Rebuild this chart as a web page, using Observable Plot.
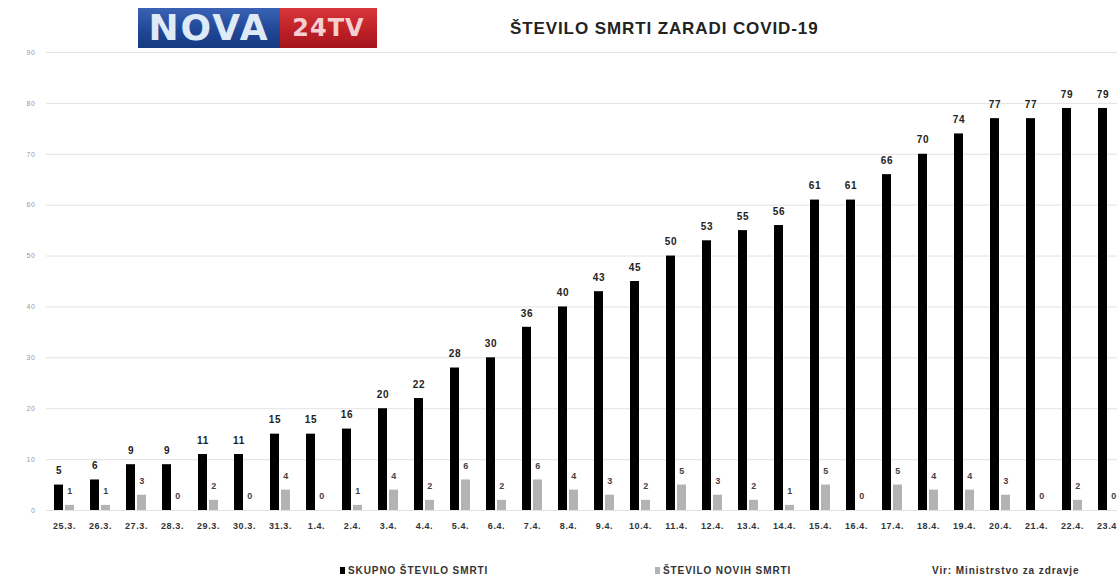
<!DOCTYPE html>
<html><head><meta charset="utf-8">
<script src="https://cdn.jsdelivr.net/npm/d3@7"></script>
<script src="https://cdn.jsdelivr.net/npm/@observablehq/plot@0.6"></script>
<style>
body{margin:0;background:#fff;font-family:"Liberation Sans",Arial,sans-serif;overflow:hidden;width:1117px;height:579px}
#header{position:relative;height:48px}
#logo{position:absolute;left:138px;top:8px;height:40px;display:flex}
#logo .b{width:142px;height:40px;background:linear-gradient(#3a62b4,#1f4594 60%,#173a80);color:#dfeaf7;font:bold 36px/40px "DejaVu Sans",sans-serif;text-align:center;letter-spacing:2px}
#logo .r{width:97px;height:40px;background:linear-gradient(#d8363a,#bb1f25 60%,#a5161c);color:#f6cfd0;font:bold 24px/40px "DejaVu Sans",sans-serif;text-align:center;letter-spacing:1px}
#title{position:absolute;left:510px;top:19px;font:bold 17px "Liberation Sans",Arial,sans-serif;color:#222;letter-spacing:0.9px}
#legend{position:relative;height:39px;font-size:10px;font-weight:bold;color:#333;letter-spacing:0.9px}
#legend div{position:absolute;top:25px;white-space:nowrap}
#legend span.sw{display:inline-block;width:5px;height:7px;margin-right:3px;vertical-align:0}
svg text{letter-spacing:0.6px}
</style></head>
<body>
<div id="header"><div id="logo"><div class="b">NOVA</div><div class="r">24TV</div></div>
<div id="title">ŠTEVILO SMRTI ZARADI COVID-19</div></div>
<div id="chart"></div>
<div id="legend">
<div style="left:340px"><span class="sw" style="background:#000"></span>SKUPNO ŠTEVILO SMRTI</div>
<div style="left:655px"><span class="sw" style="background:#b3b3b3"></span>ŠTEVILO NOVIH SMRTI</div>
<div style="left:932px">Vir: Ministrstvo za zdravje</div>
</div>
<script>
const dates = ["25.3.","26.3.","27.3.","28.3.","29.3.","30.3.","31.3.","1.4.","2.4.","3.4.","4.4.","5.4.","6.4.","7.4.","8.4.","9.4.","10.4.","11.4.","12.4.","13.4.","14.4.","15.4.","16.4.","17.4.","18.4.","19.4.","20.4.","21.4.","22.4.","23.4."];
const totalDeaths = [5,6,9,9,11,11,15,15,16,20,22,28,30,36,40,43,45,50,53,55,56,61,61,66,70,74,77,77,79,79];
const newDeaths = [1,1,3,0,2,0,4,0,1,4,2,6,2,6,4,3,2,5,3,2,1,5,0,5,4,4,3,0,2,0];
const yTicks = [0,10,20,30,40,50,60,70,80,90];

const data = dates.map((d,i)=>({date:d,total:totalDeaths[i],daily:newDeaths[i]}));

const chart = Plot.plot({
  width:1117, height:492, marginTop:4, marginLeft:46, marginRight:0, marginBottom:30,
  style:{fontFamily:"Liberation Sans, Arial, sans-serif", background:"transparent", maxWidth:"none"},
  x:{domain:dates, range:[46,1126], padding:0},
  y:{domain:[0,90]},
  marks:[
    Plot.gridY(yTicks,{stroke:"#e2e2e2", strokeOpacity:1}),
    Plot.axisY(yTicks,{tickSize:0, tickPadding:11, fontSize:7, fill:"#999", label:null}),
    Plot.axisX({tickSize:0, tickPadding:12, fontSize:9, fontWeight:"bold", fill:"#333", label:null}),
    Plot.barY(data,{x:"date", y:"total", fill:"#000", insetLeft:8, insetRight:19}),
    Plot.barY(data,{x:"date", y:"daily", fill:"#b3b3b3", insetLeft:19, insetRight:8}),
    Plot.text(data,{x:"date", y:"total", text:"total", dx:-5.5, dy:-14, fontSize:10, fontWeight:"bold", fill:"#222"}),
    Plot.text(data,{x:"date", y:"daily", text:"daily", dx:5.5, dy:-14, fontSize:9, fontWeight:"bold", fill:"#444"})
  ]
});
document.getElementById("chart").appendChild(chart);
</script>
</body></html>
